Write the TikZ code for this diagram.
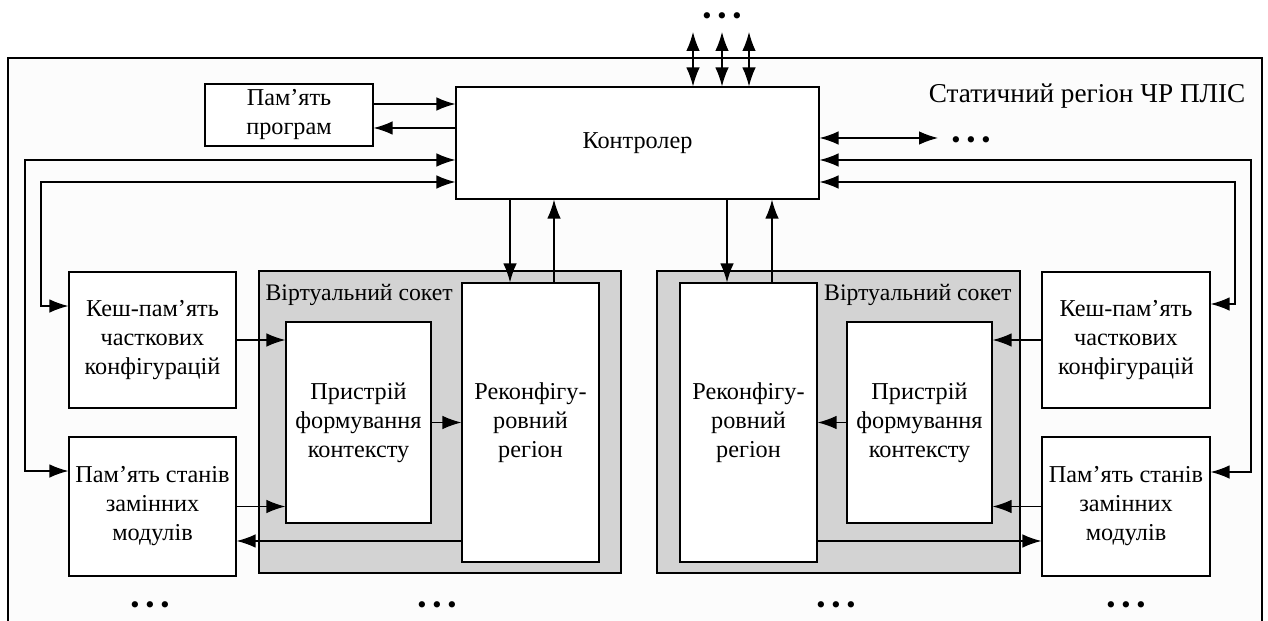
\documentclass[tikz,border=0pt]{standalone}
\usepackage{fontspec}
\setmainfont{Liberation Serif}
\usetikzlibrary{arrows.meta}
\definecolor{sockgray}{RGB}{211,211,211}
\definecolor{framegray}{RGB}{252,252,252}
\newcommand{\threedots}{•\hspace{3.3pt}•\hspace{3.3pt}•}
\begin{document}
\begin{tikzpicture}[x=0.02cm,y=-0.02cm,line width=0.7pt,
	blocknode/.style={draw,fill=white,align=center,inner sep=0pt,font=\fontsize{13.8}{16.5}\selectfont},
	socketnode/.style={draw,fill=sockgray,inner sep=0pt},
	labelnode/.style={inner sep=0pt,font=\fontsize{13.5}{16}\selectfont},
	dotsnode/.style={inner sep=0pt,anchor=base,font=\fontsize{15}{15}\selectfont},
	>={Latex[length=3.8mm,width=2.7mm]}
	]
	\useasboundingbox (0,0) rectangle (1268,621);
	\draw[fill=framegray] (8,58) rectangle (1262,650);
	\path
	(289,115)   node[blocknode,minimum width=3.36cm,minimum height=1.24cm] (1) {Пам’ять\\програм}
	(637.5,143) node[blocknode,minimum width=7.26cm,minimum height=2.24cm] (2) {Контролер}
	(152.5,340) node[blocknode,minimum width=3.34cm,minimum height=2.72cm] (3) {Кеш-пам’ять\\часткових\\конфігурацій}
	(152.5,506.5) node[blocknode,minimum width=3.34cm,minimum height=2.78cm] (4) {Пам’ять станів\\замінних\\модулів}
	(440,422)   node[socketnode,minimum width=7.24cm,minimum height=6.04cm] (5) {}
	(358.5,422.5) node[blocknode,minimum width=2.9cm,minimum height=4.02cm] (6) {Пристрій\\формування\\контексту}
	(530.5,422.5) node[blocknode,minimum width=2.74cm,minimum height=5.58cm] (7) {Реконфігу-\\ровний\\регіон}
	(838.5,422) node[socketnode,minimum width=7.26cm,minimum height=6.04cm] (8) {}
	(748.5,422.5) node[blocknode,minimum width=2.74cm,minimum height=5.58cm] (9) {Реконфігу-\\ровний\\регіон}
	(919.5,422.5) node[blocknode,minimum width=2.9cm,minimum height=4.02cm] (10) {Пристрій\\формування\\контексту}
	(1126,340)  node[blocknode,minimum width=3.36cm,minimum height=2.72cm] (11) {Кеш-пам’ять\\часткових\\конфігурацій}
	(1126,506.5) node[blocknode,minimum width=3.36cm,minimum height=2.78cm] (12) {Пам’ять станів\\замінних\\модулів}
	;
	\node[labelnode,anchor=base west] (s1) at (265,301) {Віртуальний сокет};
	\node[labelnode,anchor=base east] (s2) at (1012,301) {Віртуальний сокет};
	\node[labelnode,anchor=base east,font=\fontsize{15.5}{18}\selectfont] (st) at (1246,103) {Статичний регіон ЧР ПЛІС};
	% dots
	\node[dotsnode] (d1) at (722,25) {\threedots};
	\node[dotsnode] (d2) at (971,149) {\threedots};
	\foreach \x/\n in {150/3,437/4,836/5,1126/6}
		\node[dotsnode] (d\n) at (\x,613) {\threedots};
	% controller and program memory
	\draw[->] ([yshift=0.22cm]1.east) -- ([yshift=0.22cm]1.east -| 2.west);
	\draw[<-] ([yshift=-0.26cm]1.east) -- ([yshift=-0.26cm]1.east -| 2.west);
	\foreach \x in {693,722,749} {
		\coordinate (t\x) at (\x,32);
		\draw[<->] (t\x) -- (t\x |- 2.north);
	}
	\coordinate (r0) at (938,138);
	\draw[<->] (2.east |- r0) -- (r0);
	% buses to the memories
	\coordinate (l1) at (25,160);
	\coordinate (l2) at (41,182);
	\coordinate (r1) at (1251,160);
	\coordinate (r2) at (1235,182);
	\draw[<->] ([yshift=0.71cm]4.west) -| (l1) -- (l1 -| 2.west);
	\draw[<->] ([yshift=0.68cm]3.west) -| (l2) -- (l2 -| 2.west);
	\draw[<->] ([yshift=0.69cm]12.east) -| (r1) -- (r1 -| 2.east);
	\draw[<->] ([yshift=0.72cm]11.east) -| (r2) -- (r2 -| 2.east);
	% controller and regions
	\coordinate (a1) at ([xshift=-0.41cm]7.north);
	\coordinate (a2) at ([xshift=0.47cm]7.north);
	\coordinate (a3) at ([xshift=-0.43cm]9.north);
	\coordinate (a4) at ([xshift=0.47cm]9.north);
	\draw[->] (a1 |- 2.south) -- (a1);
	\draw[<-] (a2 |- 2.south) -- (a2);
	\draw[->] (a3 |- 2.south) -- (a3);
	\draw[<-] (a4 |- 2.south) -- (a4);
	% inside the sockets
	\draw[->] (3.east) -- (3.east -| 6.west);
	\draw[->] (4.east) -- (4.east -| 6.west);
	\draw[->] (6) -- (7);
	\coordinate (b1) at ([yshift=-0.69cm]4.east);
	\draw[->] (b1 -| 7.west) -- (b1);
	\draw[->] (11.west) -- (11.west -| 10.east);
	\draw[->] (12.west) -- (12.west -| 10.east);
	\draw[->] (10) -- (9);
	\coordinate (b2) at ([yshift=-0.69cm]12.west);
	\draw[->] (b2 -| 9.east) -- (b2);
\end{tikzpicture}
\end{document}
